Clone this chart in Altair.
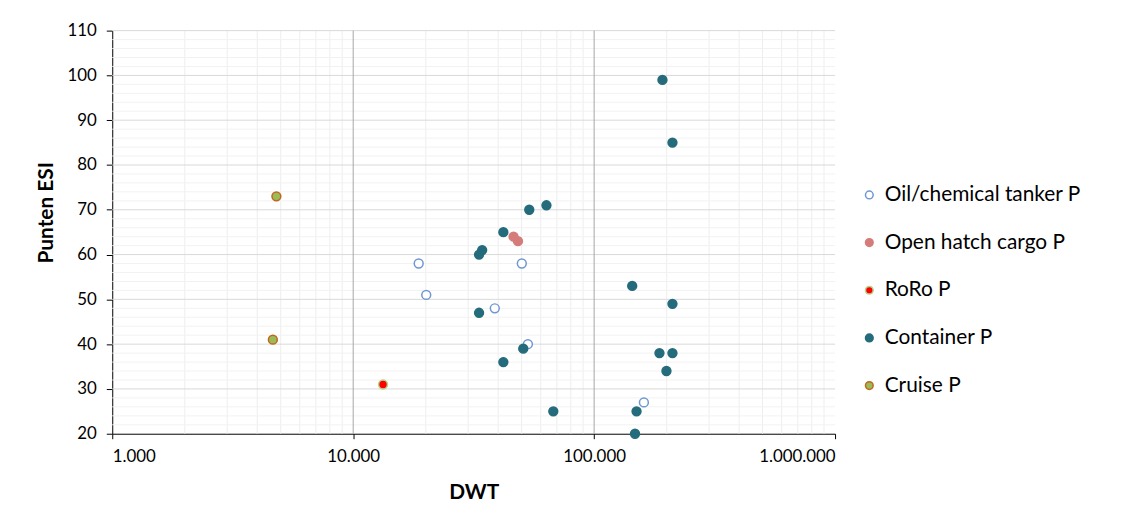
import altair as alt
import pandas as pd

# ---- data ----
series_names = ["Oil/chemical tanker P", "Open hatch cargo P", "RoRo P", "Container P", "Cruise P"]

oil_x = [18700, 50100, 20100, 38700, 53100, 160900]
oil_y = [58, 58, 51, 48, 40, 27]
hatch_x = [46300, 48300]
hatch_y = [64, 63]
roro_x = [13300]
roro_y = [31]
cont_x = [53800, 63400, 42000, 34300, 33300, 33300, 50800, 42000, 67700,
          192100, 211400, 143900, 211400, 186700, 211400, 199600, 150000, 147800]
cont_y = [70, 71, 65, 61, 60, 47, 39, 36, 25,
          99, 85, 53, 49, 38, 38, 34, 25, 20]
cruise_x = [4800, 4640]
cruise_y = [73, 41]

x_ticks = [1000, 10000, 100000, 1000000]
y_ticks = [20, 30, 40, 50, 60, 70, 80, 90, 100, 110]
x_minor = [2000, 3000, 4000, 5000, 6000, 7000, 8000, 9000,
           20000, 30000, 40000, 50000, 60000, 70000, 80000, 90000,
           200000, 300000, 400000, 500000, 600000, 700000, 800000, 900000]
x_major_grid = [10000, 100000]
y_minor = [22, 24, 26, 28, 32, 34, 36, 38, 42, 44, 46, 48, 52, 54, 56, 58,
           62, 64, 66, 68, 72, 74, 76, 78, 82, 84, 86, 88, 92, 94, 96, 98,
           102, 104, 106, 108]
y_major_grid = [30, 40, 50, 60, 70, 80, 90, 100, 110]

fill_colors = ["#ffffff", "#d57c7a", "#ff0000", "#246b7b", "#9bbb59"]
stroke_colors = ["#6f97d1", "#d57c7a", "#b5d38c", "#246b7b", "#c0671c"]

rows = []
for name, xs, ys in [(series_names[0], oil_x, oil_y),
                     (series_names[1], hatch_x, hatch_y),
                     (series_names[2], roro_x, roro_y),
                     (series_names[3], cont_x, cont_y),
                     (series_names[4], cruise_x, cruise_y)]:
    for a, b in zip(xs, ys):
        rows.append({"series": name, "DWT": a, "ESI": b})
df = pd.DataFrame(rows)

FONT = "Lato"
xscale = alt.Scale(type="log", domain=[1000, 1000000], nice=False)
yscale = alt.Scale(domain=[20, 110], nice=False, zero=False)

x_axis = alt.Axis(title="DWT", values=x_ticks, grid=False,
                  labelExpr="replace(format(datum.value, ',.0f'), /,/g, '.')",
                  domainColor="#000000", tickColor="#000000", tickSize=5,
                  labelPadding=10, titlePadding=17)
y_axis = alt.Axis(title="Punten ESI", values=y_ticks, grid=False,
                  domainColor="#000000", tickColor="#000000", tickSize=6,
                  labelPadding=10, titlePadding=11, titleY=183)

vminor = alt.Chart(pd.DataFrame({"v": x_minor})).mark_rule(color="#eeeeee", strokeWidth=1).encode(
    x=alt.X("v:Q", scale=xscale, axis=x_axis, title="DWT"))
hminor = alt.Chart(pd.DataFrame({"v": y_minor})).mark_rule(color="#f2f2f2", strokeWidth=1).encode(
    y=alt.Y("v:Q", scale=yscale, axis=y_axis, title="Punten ESI"))
hmajor = alt.Chart(pd.DataFrame({"v": y_major_grid})).mark_rule(color="#d9d9d9", strokeWidth=1).encode(
    y=alt.Y("v:Q", scale=yscale, axis=y_axis, title="Punten ESI"))
vmajor = alt.Chart(pd.DataFrame({"v": x_major_grid})).mark_rule(color="#a6a6a6", strokeWidth=1).encode(
    x=alt.X("v:Q", scale=xscale, axis=x_axis, title="DWT"))

points = alt.Chart(df).mark_point(filled=False, size=80, strokeWidth=1.5, opacity=1).encode(
    x=alt.X("DWT:Q", scale=xscale, axis=x_axis, title="DWT"),
    y=alt.Y("ESI:Q", scale=yscale, axis=y_axis, title="Punten ESI"),
    fill=alt.Fill("series:N", scale=alt.Scale(domain=series_names, range=fill_colors),
                  legend=alt.Legend(title=None)),
    stroke=alt.Stroke("series:N", scale=alt.Scale(domain=series_names, range=stroke_colors),
                      legend=alt.Legend(title=None)),
    shape=alt.value("circle"),
)

chart = alt.layer(vminor, hminor, hmajor, vmajor, points).properties(
    width=728, height=406,
    padding={"left": 105, "top": 21, "right": 290, "bottom": 70},
    autosize=alt.AutoSizeParams(type="none"),
).configure_view(stroke=None).configure_axis(
    labelFont=FONT, titleFont=FONT, labelFontSize=17, titleFontSize=21,
    labelColor="#000000", titleColor="#000000", titleFontWeight="bold",
).configure_legend(
    orient="none", legendX=752, legendY=155, labelFont=FONT, labelFontSize=21,
    labelColor="#000000", symbolSize=60, symbolStrokeWidth=1.5, rowPadding=26,
    labelOffset=5, labelLimit=400,
)

chart.save("out.html", embed_options={"renderer": "svg", "actions": False})
